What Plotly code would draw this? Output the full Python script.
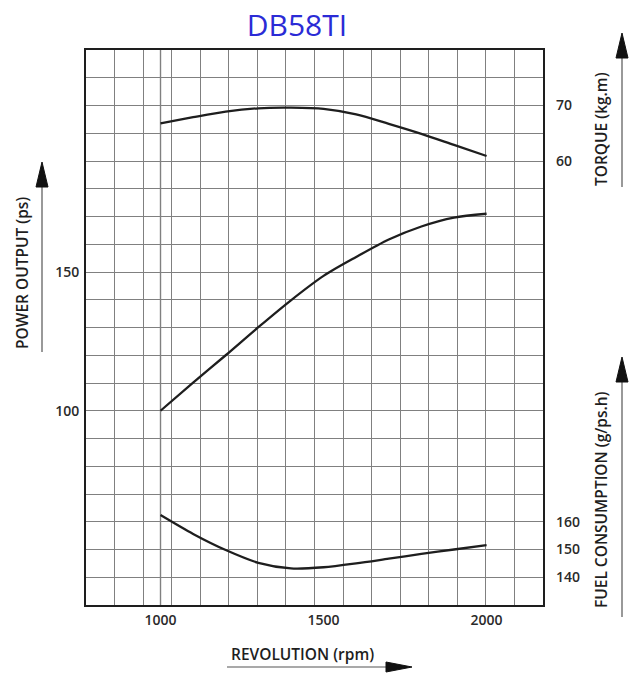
import plotly.graph_objects as go

# ---- data ----
RPM = [1000, 1100, 1200, 1300, 1400, 1500, 1600, 1700, 1800, 1900, 2000]
TORQUE = [66.8, 67.9, 68.9, 69.5, 69.6, 69.4, 68.4, 66.7, 64.9, 62.9, 60.9]   # kg.m
POWER = [100.0, 110.1, 120.0, 130.1, 139.8, 148.6, 155.4, 161.7, 166.4, 169.6, 171.0]  # ps
FUEL = [162.4, 155.6, 149.8, 145.2, 143.2, 143.6, 145.0, 146.7, 148.4, 150.0, 151.6]  # g/ps.h

X_TICKS = [1000, 1500, 2000]
POWER_TICKS = [100, 150]
TORQUE_TICKS = [60, 70]
FUEL_TICKS = [140, 150, 160]

TITLE = "DB58TI"
X_TITLE = "REVOLUTION (rpm)"
POWER_TITLE = "POWER OUTPUT (ps)"
TORQUE_TITLE = "TORQUE (kg.m)"
FUEL_TITLE = "FUEL CONSUMPTION (g/ps.h)"

W, H = 636, 675
L, R, T, B = 86, 543, 50, 605          # plot box in window pixels
FONT = "Open Sans"
INK = "#1e1e1e"
GRID = "#808080"


def px(x):
    return (x - L) / (R - L)


def py(y):
    return (B - y) / (B - T)


fig = go.Figure()
line_style = dict(color=INK, width=2.3, shape="spline", smoothing=0.8)
fig.add_trace(go.Scatter(x=RPM, y=POWER, mode="lines", line=line_style,
                         yaxis="y", showlegend=False))
fig.add_trace(go.Scatter(x=RPM, y=TORQUE, mode="lines", line=line_style,
                         yaxis="y2", showlegend=False))
fig.add_trace(go.Scatter(x=RPM, y=FUEL, mode="lines", line=line_style,
                         yaxis="y3", showlegend=False))

tickfont = dict(family=FONT, size=14, color="#2a2a2a", weight=600)
x_range = [771.5, 2173.0]
fig.update_layout(
    width=W, height=H,
    margin=dict(l=L, r=W - R, t=T, b=H - B),
    paper_bgcolor="white", plot_bgcolor="white",
    font=dict(family=FONT, color=INK, size=12),
    title=dict(text=TITLE, x=297 / W, xanchor="center",
               y=1 - 25 / H, yanchor="middle",
               yref="container", xref="container",
               font=dict(family=FONT, size=30, color="#2b2bd6")),
    xaxis=dict(range=x_range, tickvals=X_TICKS, ticks="", showgrid=False,
               zeroline=False, showline=True, mirror=True, linecolor=INK, linewidth=2,
               tickfont=tickfont, ticklabelstandoff=1,
               minor=dict(tick0=x_range[0], dtick=(x_range[1] - x_range[0]) / 16,
                          showgrid=True, gridcolor=GRID, gridwidth=1.4, ticks="")),
    yaxis=dict(range=[30, 230], tickvals=POWER_TICKS, ticks="", showgrid=True,
               gridcolor=GRID, gridwidth=1.4, zeroline=False, showline=True, mirror=True,
               linecolor=INK, linewidth=2, tickfont=tickfont, ticklabelstandoff=2,
               minor=dict(tick0=0, dtick=10, showgrid=True, gridcolor=GRID,
                          gridwidth=1.4, ticks="")),
    yaxis2=dict(range=[-20, 80], overlaying="y", side="right", tickvals=TORQUE_TICKS,
                ticks="", showgrid=False, zeroline=False, showline=False,
                tickfont=tickfont, ticklabelstandoff=12),
    yaxis3=dict(range=[130, 330], overlaying="y", side="right", tickvals=FUEL_TICKS,
                ticks="", showgrid=False, zeroline=False, showline=False,
                tickfont=tickfont, ticklabelstandoff=12),
)

# extra vertical grid line at the start of the curves (1000 rpm)
fig.add_shape(type="line", xref="x", yref="paper", x0=RPM[0], x1=RPM[0], y0=0, y1=1,
              line=dict(color=GRID, width=1.4), layer="below")

# axis titles
ann = dict(xref="paper", yref="paper", showarrow=False, xanchor="center", yanchor="middle",
           font=dict(family=FONT, size=15.5, color=INK, weight=600))
fig.add_annotation(text=POWER_TITLE, x=px(22), y=py(273), textangle=-90, **ann)
fig.add_annotation(text=TORQUE_TITLE, x=px(601), y=py(129), textangle=-90, **ann)
fig.add_annotation(text=FUEL_TITLE, x=px(601), y=py(500), textangle=-90, **ann)
fig.add_annotation(text=X_TITLE, x=px(302), y=py(654), **ann)

# arrows (decorative)
ARROW = "#111111"
SHAFT = "#555555"


def v_arrow(x, y_bottom, y_tip):
    fig.add_shape(type="line", xref="paper", yref="paper", x0=px(x), x1=px(x),
                  y0=py(y_bottom), y1=py(y_tip + 20), line=dict(color=SHAFT, width=1.2))
    path = (f"M {px(x)},{py(y_tip)} L {px(x - 6)},{py(y_tip + 25)} "
            f"L {px(x + 6)},{py(y_tip + 25)} Z")
    fig.add_shape(type="path", xref="paper", yref="paper", path=path,
                  fillcolor=ARROW, line=dict(color=ARROW, width=1))


def h_arrow(y, x_left, x_tip):
    fig.add_shape(type="line", xref="paper", yref="paper", x0=px(x_left), x1=px(x_tip - 20),
                  y0=py(y), y1=py(y), line=dict(color=SHAFT, width=1.2))
    path = (f"M {px(x_tip)},{py(y)} L {px(x_tip - 26)},{py(y - 5)} "
            f"L {px(x_tip - 26)},{py(y + 5)} Z")
    fig.add_shape(type="path", xref="paper", yref="paper", path=path,
                  fillcolor=ARROW, line=dict(color=ARROW, width=1))


v_arrow(42, 352, 162)
v_arrow(622, 187, 33)
v_arrow(622, 617, 357)
h_arrow(667, 227, 412)

# remove the browser's default page margin so the figure fills the window exactly
fig.write_html("out.html", config={"displayModeBar": False},
               post_script="document.body.style.margin='0px';")
